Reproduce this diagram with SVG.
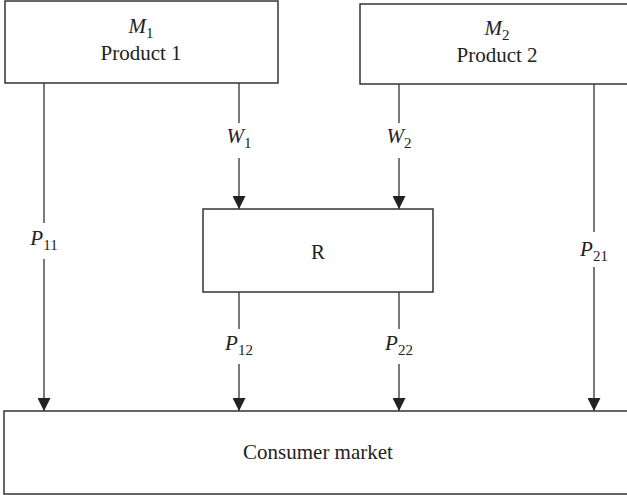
<svg xmlns="http://www.w3.org/2000/svg" width="627" height="495" viewBox="0 0 627 495">
<defs>
<style>
.box{fill:#fff;stroke:#333;stroke-width:1.5}
.ln{fill:none;stroke:#333;stroke-width:1.3}
text{font-family:'Liberation Serif','DejaVu Serif',serif;font-size:21px;fill:#222;text-anchor:middle}
.i{font-style:italic}
.s{font-size:15px}
</style>
<marker id="ah" viewBox="0 0 13 13" refX="13" refY="6.5" markerWidth="13" markerHeight="13" markerUnits="userSpaceOnUse" orient="auto">
<path d="M0,0 L13,6.5 L0,13 z" fill="#222"/>
</marker>
</defs>
<rect width="627" height="495" fill="#fff"/>
<g id="connectors">
<path class="ln" d="M44,83 V223"/>
<path class="ln" d="M44,259 V411" marker-end="url(#ah)"/>
<path class="ln" d="M239,83 V123"/>
<path class="ln" d="M239,158 V209" marker-end="url(#ah)"/>
<path class="ln" d="M239,292 V329"/>
<path class="ln" d="M239,364 V411" marker-end="url(#ah)"/>
<path class="ln" d="M399,84 V123"/>
<path class="ln" d="M399,158 V209" marker-end="url(#ah)"/>
<path class="ln" d="M399,292 V329"/>
<path class="ln" d="M399,364 V411" marker-end="url(#ah)"/>
<path class="ln" d="M594,84 V232"/>
<path class="ln" d="M594,267 V411" marker-end="url(#ah)"/>
<text font-family="Liberation Serif, serif" x="239" y="143"><tspan class="i">W</tspan><tspan class="s" dy="5">1</tspan></text>
<text font-family="Liberation Serif, serif" x="399" y="143"><tspan class="i">W</tspan><tspan class="s" dy="5">2</tspan></text>
<text font-family="Liberation Serif, serif" x="44" y="245"><tspan class="i">P</tspan><tspan class="s" dy="5">11</tspan></text>
<text font-family="Liberation Serif, serif" x="594" y="256"><tspan class="i">P</tspan><tspan class="s" dy="5">21</tspan></text>
<text font-family="Liberation Serif, serif" x="239" y="350"><tspan class="i">P</tspan><tspan class="s" dy="5">12</tspan></text>
<text font-family="Liberation Serif, serif" x="399" y="350"><tspan class="i">P</tspan><tspan class="s" dy="5">22</tspan></text>
</g>
<g id="m1">
<rect class="box" x="5" y="1" width="273" height="82"/>
<text x="141" y="33"><tspan class="i">M</tspan><tspan class="s" dy="5">1</tspan></text>
<text x="141" y="60">Product 1</text>
</g>
<g id="m2">
<rect class="box" x="360" y="4" width="280" height="80"/>
<text x="497" y="35"><tspan class="i">M</tspan><tspan class="s" dy="5">2</tspan></text>
<text x="497" y="62">Product 2</text>
</g>
<g id="r">
<rect class="box" x="203" y="209" width="230" height="83"/>
<text x="318" y="259">R</text>
</g>
<g id="market">
<rect class="box" x="4" y="411" width="640" height="83"/>
<text x="318" y="459">Consumer market</text>
</g>
</svg>
